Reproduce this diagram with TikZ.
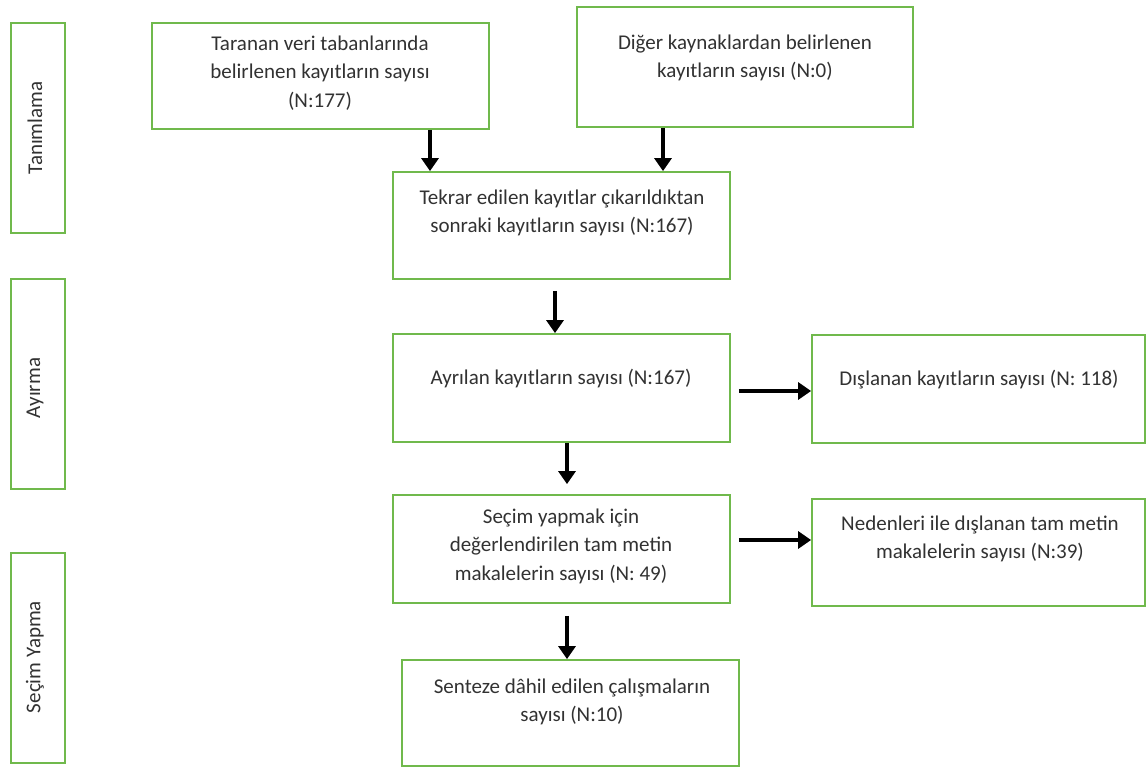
\documentclass[tikz,border=0pt]{standalone}
\usepackage{fontspec}
\setmainfont{Carlito}
\usetikzlibrary{arrows.meta,calc}
\definecolor{boxgreen}{RGB}{112,185,76}
\definecolor{txt}{RGB}{50,50,50}
\begin{document}
\begin{tikzpicture}[x=1pt,y=-1pt,
  box/.style={draw=boxgreen,line width=1.8pt,inner sep=0pt},
  lbl/.style={text=txt,font=\fontsize{21}{28.5}\selectfont,align=center,inner sep=0pt},
  side/.style={lbl,rotate=90},
  arr/.style={line width=3.2pt,-{Triangle[width=17pt,length=13pt]}}]

\fill[white] (0,0) rectangle (1146,768);
\useasboundingbox (0,0) rectangle (1146,768);

% stage boxes on the left
\node[box,minimum width=54pt,minimum height=210pt] (t1) at (38,128) {};
\node[box,minimum width=54pt,minimum height=210pt] (t2) at (38,384) {};
\node[box,minimum width=54pt,minimum height=210pt] (t3) at (38,658) {};
\node[side] (s1) at (35,128) {Tanımlama};
\node[side] (s2) at (35,388) {Ayırma};
\node[side] (s3) at (35,657) {Seçim Yapma};

% flow boxes
\node[box,minimum width=337pt,minimum height=106pt] (b1) at (320.5,76) {};
\node[box,minimum width=336pt,minimum height=120pt] (b2) at (745,67) {};
\node[box,minimum width=337pt,minimum height=107pt] (b3) at (561.5,225.5) {};
\node[box,minimum width=337pt,minimum height=108pt] (b4) at (561.5,388) {};
\node[box,minimum width=333pt,minimum height=108pt] (b5) at (978.5,389) {};
\node[box,minimum width=337pt,minimum height=108pt] (b6) at (561.5,549) {};
\node[box,minimum width=333pt,minimum height=107pt] (b7) at (978.5,552.5) {};
\node[box,minimum width=337pt,minimum height=106pt] (b8) at (570.5,713) {};

% box texts
\node[lbl] (l1) at (320,73) {Taranan veri tabanlarında\\belirlenen kayıtların sayısı\\(N:177)};
\node[lbl] (l2) at (745,58) {Diğer kaynaklardan belirlenen\\kayıtların sayısı (N:0)};
\node[lbl] (l3) at (562,213) {Tekrar edilen kayıtlar çıkarıldıktan\\sonraki kayıtların sayısı (N:167)};
\node[lbl] (l4) at (561,379) {Ayrılan kayıtların sayısı (N:167)};
\node[lbl] (l5) at (979,380) {Dışlanan kayıtların sayısı (N: 118)};
\node[lbl] (l6) at (561,546) {Seçim yapmak için\\değerlendirilen tam metin\\makalelerin sayısı (N: 49)};
\node[lbl] (l7) at (980,539) {Nedenleri ile dışlanan tam metin\\makalelerin sayısı (N:39)};
\node[lbl] (l8) at (572,702) {Senteze dâhil edilen çalışmaların\\sayısı (N:10)};

% connector positions
\coordinate (a1) at (430,0);
\coordinate (a2) at (663,0);
\coordinate (a3) at (555,0);
\coordinate (a4) at (567,0);
\coordinate (h1) at (0,391);
\coordinate (h2) at (0,540);

\draw[arr] (b1.south -| a1) -- (b3.north -| a1);
\draw[arr] (b2.south -| a2) -- (b3.north -| a2);
\draw[arr,shorten <=11pt] (b3.south -| a3) -- (b4.north -| a3);
\draw[arr,shorten >=10pt] (b4.south -| a4) -- (b6.north -| a4);
\draw[arr,shorten <=12pt] (b6.south -| a4) -- (b8.north -| a4);
\draw[arr,shorten <=8pt] (b4.east |- h1) -- (b5.west |- h1);
\draw[arr,shorten <=8pt] (b6.east |- h2) -- (b7.west |- h2);
\end{tikzpicture}
\end{document}
